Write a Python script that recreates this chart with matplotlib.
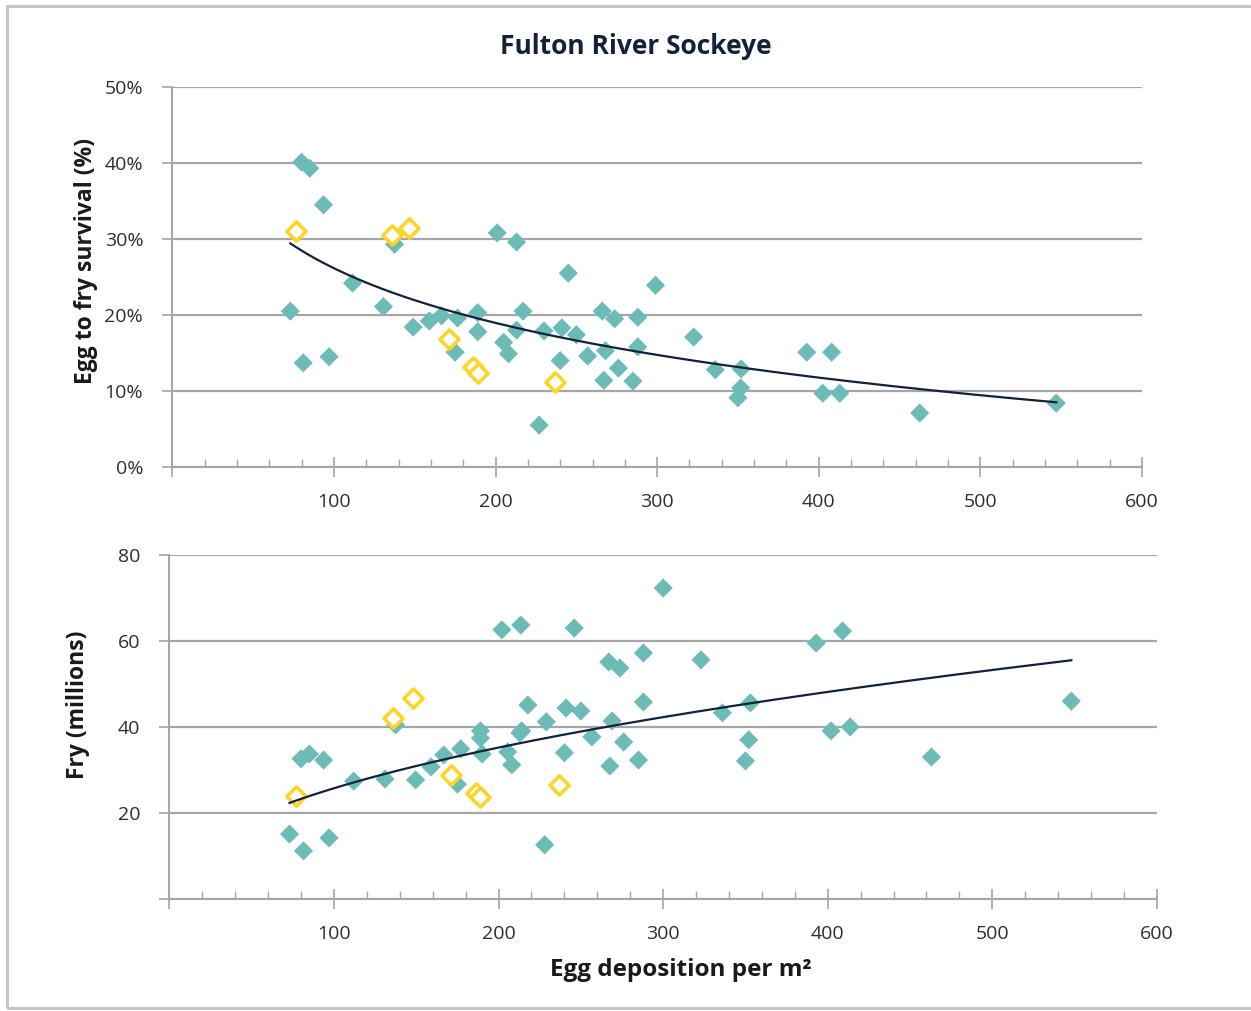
import numpy as np
import matplotlib
matplotlib.use("Agg")
import matplotlib.pyplot as plt
from matplotlib.ticker import MultipleLocator, FuncFormatter
from matplotlib.patches import Rectangle

plt.rcParams['font.family'] = ['Open Sans', 'DejaVu Sans']

# ---- Data ----
# Teal (filled) years: egg deposition per m2, survival (%), fry (millions)
egg_teal = [80, 85, 93.5, 73, 81, 97, 111.5, 130.6, 137.5, 149, 159, 166.5, 176.5, 175,
            189, 189, 201, 213, 205, 208, 213, 217, 230, 227, 241, 240, 245, 250, 257,
            266, 268, 267, 273.7, 276, 288, 288, 285, 299, 322.6, 336, 352, 351.7, 350,
            392.6, 408, 402.5, 413, 462.5, 547]
surv_teal = [40.1, 39.3, 34.5, 20.5, 13.7, 14.5, 24.2, 21.1, 29.3, 18.4, 19.2, 19.9, 19.6, 15.1,
             20.3, 17.8, 30.8, 29.6, 16.4, 14.9, 18.0, 20.5, 17.9, 5.5, 18.3, 14.0, 25.5, 17.4, 14.6,
             20.5, 15.3, 11.4, 19.5, 13.0, 19.7, 15.8, 11.3, 23.9, 17.1, 12.8, 12.9, 10.4, 9.1,
             15.1, 15.1, 9.7, 9.7, 7.1, 8.4]

egg_teal_b = [73, 81.5, 97, 80, 85, 93.7, 112, 131, 137.5, 149.6, 159, 166.7, 177, 175,
              189, 189, 190, 202, 213.5, 205.6, 208, 213, 214, 217.8, 229, 228, 241, 240, 246,
              250, 256.7, 267, 269, 267.6, 273.7, 276, 288, 288, 285, 300, 323, 336, 353, 352,
              350, 393, 409, 402, 413.6, 463, 548]
fry_teal = [15.1, 11.2, 14.2, 32.6, 33.7, 32.3, 27.4, 27.9, 40.5, 27.7, 30.7, 33.5, 34.9, 26.7,
            39.1, 37.4, 33.7, 62.6, 63.7, 34.2, 31.2, 38.6, 39.1, 45.1, 41.2, 12.6, 44.4, 34.0, 63.0,
            43.7, 37.7, 55.1, 41.4, 30.9, 53.7, 36.5, 57.2, 45.8, 32.3, 72.3, 55.6, 43.3, 45.6, 37.0,
            32.1, 59.5, 62.3, 39.1, 40.0, 33.0, 46.0]

# Yellow (hollow) years
egg_yel = [76.8, 136, 146.7, 171, 186, 189, 236.5]
surv_yel = [31.0, 30.5, 31.4, 16.8, 13.2, 12.4, 11.2]
egg_yel_b = [77, 136, 148, 171, 186, 189, 237]
fry_yel = [24.0, 42.1, 46.7, 28.8, 24.7, 23.7, 26.5]

title = "Fulton River Sockeye"
ylabel_top = "Egg to fry survival (%)"
ylabel_bot = "Fry (millions)"
xlabel = "Egg deposition per m\u00b2"

TEAL = "#6dbbb6"
YEL = "#fdd428"
NAVY = "#13223a"
GRID = "#a6a6a6"
TXT = "#2e2e2e"

fig = plt.figure(figsize=(12.51, 10.11), dpi=100)
ax1 = fig.add_axes([0.1378, 0.5381, 0.7750, 0.3759])
ax2 = fig.add_axes([0.1354, 0.1108, 0.7894, 0.3403])


def style(ax):
    for s in ["top", "right"]:
        ax.spines[s].set_visible(False)
    for s in ["left", "bottom"]:
        ax.spines[s].set_color(GRID)
        ax.spines[s].set_linewidth(1.5)
    ax.grid(axis="y", color=GRID, linewidth=1.6)
    ax.set_axisbelow(True)
    ax.set_xlim(0, 600)
    ax.xaxis.set_major_locator(MultipleLocator(100))
    ax.xaxis.set_minor_locator(MultipleLocator(20))
    ax.xaxis.set_major_formatter(FuncFormatter(lambda v, p: "" if v == 0 else f"{v:.0f}"))
    ax.tick_params(axis="x", which="major", direction="inout", length=14, width=1.2,
                   color=GRID, labelsize=14, labelcolor=TXT, pad=12)
    ax.tick_params(axis="x", which="minor", direction="in", length=6, width=1.0, color=GRID)
    ax.tick_params(axis="y", which="major", direction="out", length=7, width=1.2,
                   color=GRID, labelsize=14, labelcolor=TXT, pad=14)


def draw(ax, xt, yt, xy, yy, kind):
    ax.scatter(xt, yt, marker="D", s=95, color=TEAL, edgecolors="none", zorder=3)
    ax.scatter(xy, yy, marker="D", s=95, facecolors="white", edgecolors=YEL,
               linewidths=2.6, zorder=4)
    xa = np.concatenate([np.asarray(xt, float), np.asarray(xy, float)])
    ya = np.concatenate([np.asarray(yt, float), np.asarray(yy, float)])
    xs = np.linspace(xa.min(), xa.max(), 200)
    if kind == "log":
        b, a = np.polyfit(np.log(xa), ya, 1)
        ys = a + b * np.log(xs)
    else:
        b, ln_a = np.polyfit(np.log(xa), np.log(ya), 1)
        ys = np.exp(ln_a) * xs ** b
    ax.plot(xs, ys, color=NAVY, lw=1.6, zorder=5)


style(ax1)
draw(ax1, egg_teal, surv_teal, egg_yel, surv_yel, "log")
ax1.set_ylim(0, 50)
ax1.yaxis.set_major_locator(MultipleLocator(10))
ax1.yaxis.set_major_formatter(FuncFormatter(lambda v, p: f"{v:.0f}%"))

style(ax2)
draw(ax2, egg_teal_b, fry_teal, egg_yel_b, fry_yel, "power")
ax2.set_ylim(0, 80)
ax2.yaxis.set_major_locator(MultipleLocator(20))
ax2.yaxis.set_major_formatter(FuncFormatter(lambda v, p: "" if v == 0 else f"{v:.0f}"))

fig.text(0.508, 0.9545, title, ha="center", va="center", fontsize=19,
         fontweight="bold", color=NAVY)
fig.text(0.069, 0.742, ylabel_top, ha="center", va="center", rotation=90,
         fontsize=16.5, fontweight="bold", color="#1a1a1a")
fig.text(0.062, 0.303, ylabel_bot, ha="center", va="center", rotation=90,
         fontsize=16.5, fontweight="bold", color="#1a1a1a")
fig.text(0.544, 0.0405, xlabel, ha="center", va="center", fontsize=17.5,
         fontweight="bold", color="#1a1a1a")

# outer frame
fig.add_artist(Rectangle((0.0056, 0.003), 1.2, 0.991, transform=fig.transFigure,
                         fill=False, edgecolor="#c4c4cc", linewidth=2.2))

fig.savefig("out.png", dpi=100)
